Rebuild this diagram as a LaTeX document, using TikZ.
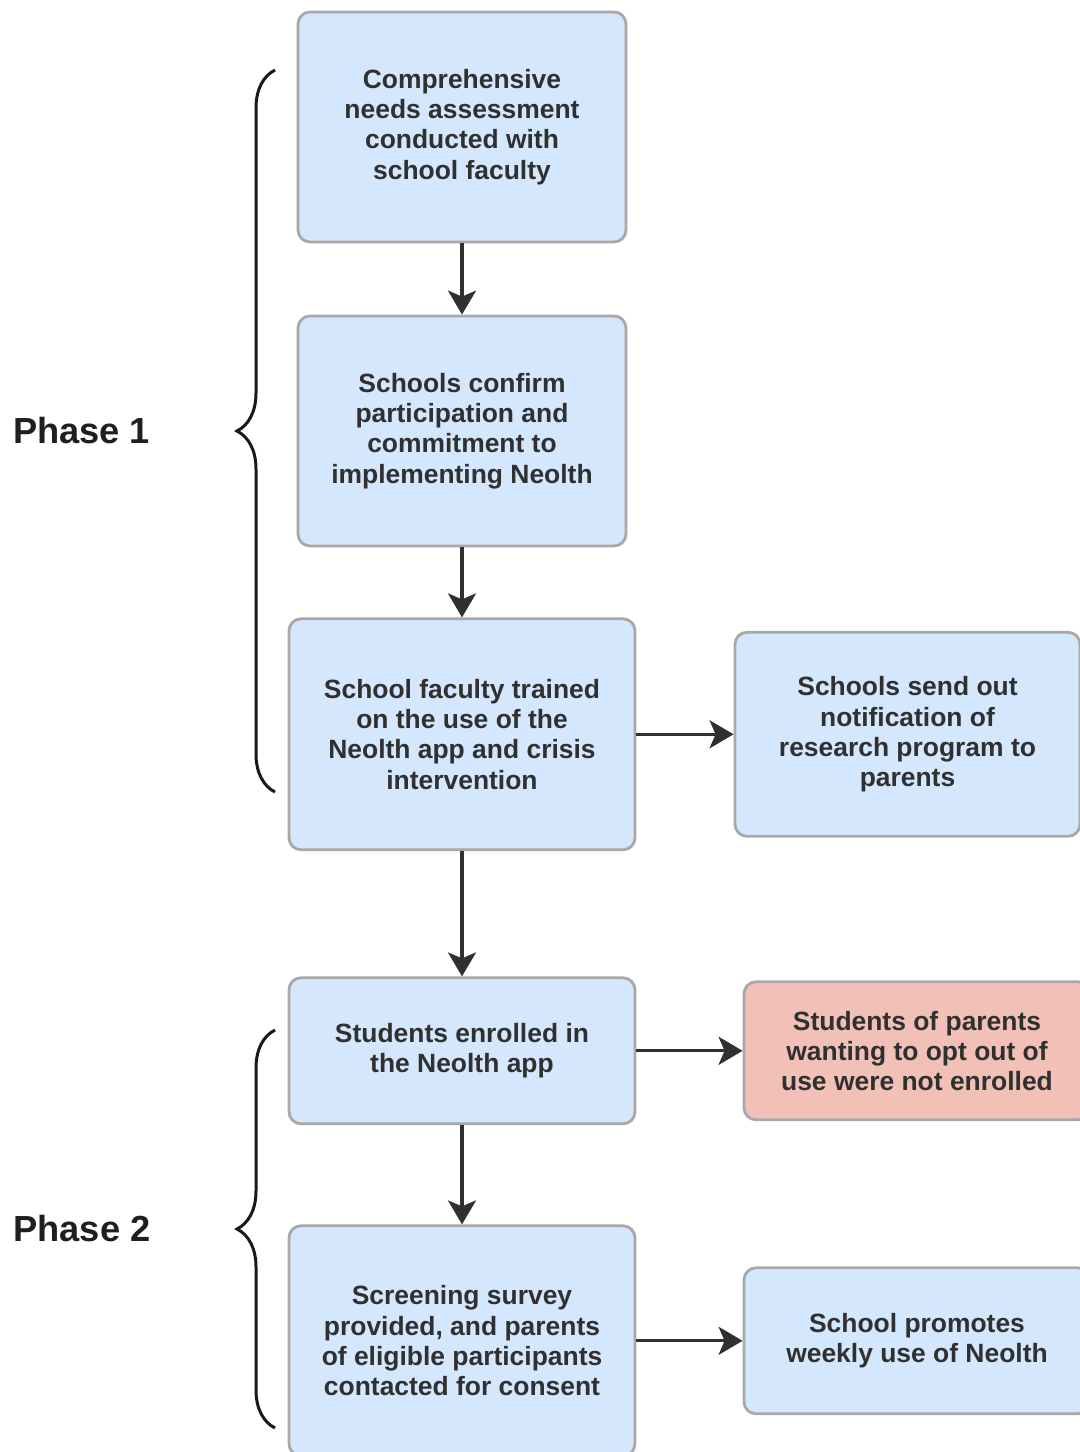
\documentclass[tikz,border=0pt]{standalone}
\usepackage{fontspec}
\setmainfont{Liberation Sans}
\usetikzlibrary{positioning, arrows.meta, decorations.pathreplacing}
\definecolor{boxblue}{HTML}{D5E7FD}
\definecolor{boxred}{HTML}{F1C1B8}
\definecolor{boxline}{HTML}{A8A8A8}
\definecolor{ink}{HTML}{303030}
\tikzset{
>={Stealth[length=6mm, width=7mm, inset=1.5mm]}, % big filled arrow heads
line/.style={->, draw=ink, line width=0.8mm}, % the flow arrows
stepbox/.style={rectangle, rounded corners=3mm, draw=boxline, line width=0.7mm, fill=boxblue, text=ink, font=\fontsize{18.8}{21.5}\selectfont\bfseries, align=center, inner sep=0pt}, % every step of the procedure
optoutbox/.style={stepbox, fill=boxred}, % the one red box
phase/.style={font=\fontsize{25.8}{30}\selectfont\bfseries, text=black!88}, % phase labels on the left
bracket/.style={decorate, decoration={brace, amplitude=9.5mm}, line width=0.75mm, draw=black!90}, % curly braces
}
\begin{document}
\begin{tikzpicture}
        \useasboundingbox (0,0) rectangle (27,-36.3);

        \node[stepbox, minimum width=8.2cm, minimum height=5.75cm] (needs) at (11.55,-3.175) {Comprehensive\\needs assessment\\conducted with\\school faculty};
        \node[stepbox, minimum width=8.2cm, minimum height=5.75cm, below=1.78cm of needs] (confirm) {Schools confirm\\participation and\\commitment to\\implementing Neolth};
        \node[stepbox, minimum width=8.65cm, minimum height=5.775cm, below=1.75cm of confirm] (train) {School faculty trained\\on the use of the\\Neolth app and crisis\\intervention};
        \node[stepbox, minimum width=8.625cm, minimum height=5.1cm, right=2.43cm of train] (notify) {Schools send out\\notification of\\research program to\\parents};
        \node[stepbox, minimum width=8.65cm, minimum height=3.65cm, below=3.13cm of train] (enrol) {Students enrolled in\\the Neolth app};
        \node[optoutbox, minimum width=8.65cm, minimum height=3.45cm, right=2.655cm of enrol] (notenrolled) {Students of parents\\wanting to opt out of\\use were not enrolled};
        \node[stepbox, minimum width=8.65cm, minimum height=5.75cm, below=2.48cm of enrol] (screen) {Screening survey\\provided, and parents\\of eligible participants\\contacted for consent};
        \node[stepbox, minimum width=8.65cm, minimum height=3.65cm, right=2.655cm of screen] (promote) {School promotes\\weekly use of Neolth};

        \node[phase] (phase1) at (2.04,-10.775) {Phase 1};
        \node[phase] (phase2) at (2.05,-30.725) {Phase 2};

        \draw[bracket] (6.875,-19.8) -- (6.875,-1.75);
        \draw[bracket] (6.875,-35.7) -- (6.875,-25.75);

        \draw[line] (needs) -- (confirm);
        \draw[line] (confirm) -- (train);
        \draw[line] (train) -- (notify);
        \draw[line] (train) -- (enrol);
        \draw[line] (enrol) -- (notenrolled);
        \draw[line] (enrol) -- (screen);
        \draw[line] (screen) -- (promote);
      \end{tikzpicture}
\end{document}
